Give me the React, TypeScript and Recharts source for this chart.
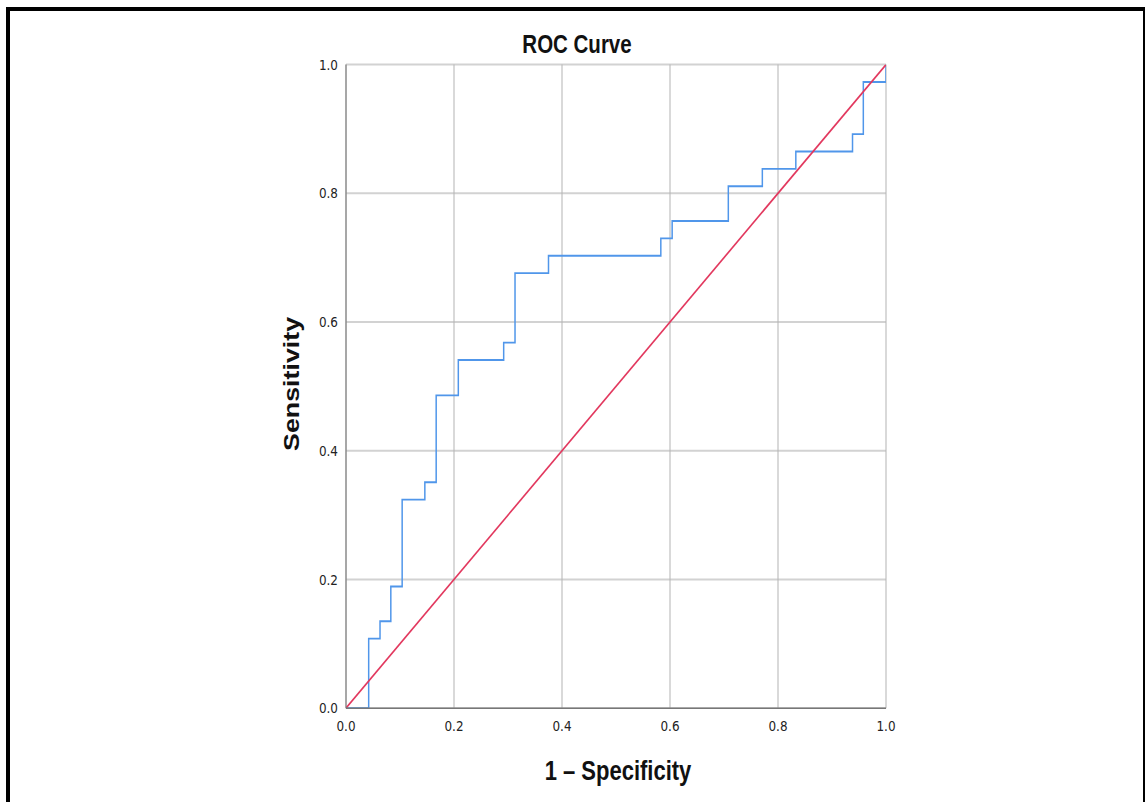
import React from "react";
import {
  CartesianGrid,
  Label,
  Line,
  LineChart,
  XAxis,
  YAxis,
} from "recharts";

// ROC curve (1 - specificity, sensitivity)
const fprValues = [
  0, 0.042, 0.063, 0.083, 0.104, 0.146, 0.167, 0.208, 0.292, 0.313, 0.375,
  0.583, 0.604, 0.708, 0.771, 0.833, 0.938, 0.958, 1.0,
];
const tprValues = [
  0, 0.108, 0.135, 0.189, 0.324, 0.351, 0.486, 0.541, 0.568, 0.676, 0.703,
  0.73, 0.757, 0.811, 0.838, 0.865, 0.892, 0.973, 1.0,
];
const diagonalX = [0, 1];
const diagonalY = [0, 1];
const axisTicks = [0, 0.2, 0.4, 0.6, 0.8, 1.0];

const rocData = fprValues.map((x, i) => ({ x, y: tprValues[i] }));
const refData = diagonalX.map((x, i) => ({ x, y: diagonalY[i] }));

// the source picture is stretched vertically, so draw flat and scale up
const W = 1145;
const H0 = 658;
const SY = 802 / H0;

const FONT = '"Liberation Sans", Arial, sans-serif';
const TICK_FONT = '"DejaVu Sans", sans-serif';

const App: React.FC = () => {
  return (
    <div
      style={{
        position: "fixed",
        left: 0,
        top: 0,
        width: W,
        height: 802,
        background: "#fff",
        overflow: "hidden",
      }}
    >
      <div
        style={{
          position: "absolute",
          left: 6,
          top: 7,
          width: 1141,
          height: 900,
          border: "4px solid #000",
          borderBottom: "none",
          boxSizing: "border-box",
        }}
      />
      <div
        style={{
          position: "absolute",
          left: 0,
          top: 0,
          width: W,
          height: H0,
          transform: `scaleY(${SY})`,
          transformOrigin: "0 0",
        }}
      >
        <LineChart
          width={W}
          height={H0}
          margin={{ top: 53, right: 259, left: 286, bottom: 0 }}
          style={{ fontFamily: FONT }}
        >
          <CartesianGrid
            vertical={false}
            stroke="#d2d2d2"
            strokeWidth={1.6}
          />
          <CartesianGrid horizontal={false} stroke="#b4b4b4" strokeWidth={1} />
          <XAxis
            type="number"
            dataKey="x"
            domain={[0, 1]}
            ticks={axisTicks}
            tickFormatter={(v: number) => v.toFixed(1)}
            axisLine={{ stroke: "#777", strokeWidth: 1.2 }}
            tickLine={false}
            tickSize={4}
            tickMargin={6}
            height={77}
            tick={{ fill: "#222", fontSize: 12, fontFamily: TICK_FONT }}
            allowDataOverflow
          >
            <Label
              content={(props: any) => {
                const vb = props.viewBox || {};
                return (
                  <text
                    x={vb.x + vb.width / 2 + 2}
                    y={vb.y + 59}
                    textAnchor="middle"
                    fontSize={22}
                    fontWeight="bold"
                    fill="#111"
                    fontFamily={FONT}
                  >
                    1 – Specificity
                  </text>
                );
              }}
            />
          </XAxis>
          <YAxis
            type="number"
            dataKey="y"
            domain={[0, 1]}
            ticks={axisTicks}
            tickFormatter={(v: number) => v.toFixed(1)}
            axisLine={{ stroke: "#777", strokeWidth: 1 }}
            tickLine={false}
            tickSize={4}
            tickMargin={4}
            width={60}
            tick={{ fill: "#222", fontSize: 12, fontFamily: TICK_FONT }}
            allowDataOverflow
          >
            <Label
              content={(props: any) => {
                const vb = props.viewBox || {};
                const cx = vb.x + 5;
                const cy = vb.y + vb.height / 2 - 2;
                return (
                  <text
                    x={cx}
                    y={cy}
                    transform={`rotate(-90, ${cx}, ${cy})`}
                    textAnchor="middle"
                    dominantBaseline="central"
                    fontSize={22}
                    fontWeight="bold"
                    fill="#111"
                    fontFamily={FONT}
                  >
                    Sensitivity
                  </text>
                );
              }}
            />
          </YAxis>
          <Line
            data={rocData}
            dataKey="y"
            type="stepAfter"
            stroke="#5096ea"
            strokeWidth={1.5}
            dot={false}
            activeDot={false}
            isAnimationActive={false}
          />
          <Line
            data={refData}
            dataKey="y"
            type="linear"
            stroke="#e2385e"
            strokeWidth={1.5}
            dot={false}
            activeDot={false}
            isAnimationActive={false}
          />
        </LineChart>
        <svg
          width={W}
          height={H0}
          style={{ position: "absolute", left: 0, top: 0, pointerEvents: "none" }}
        >
          <text
            x={577}
            y={43.5}
            textAnchor="middle"
            fontSize={20.5}
            fontWeight="bold"
            fill="#111"
            fontFamily={FONT}
          >
            ROC Curve
          </text>
        </svg>
      </div>
    </div>
  );
};

export default App;
